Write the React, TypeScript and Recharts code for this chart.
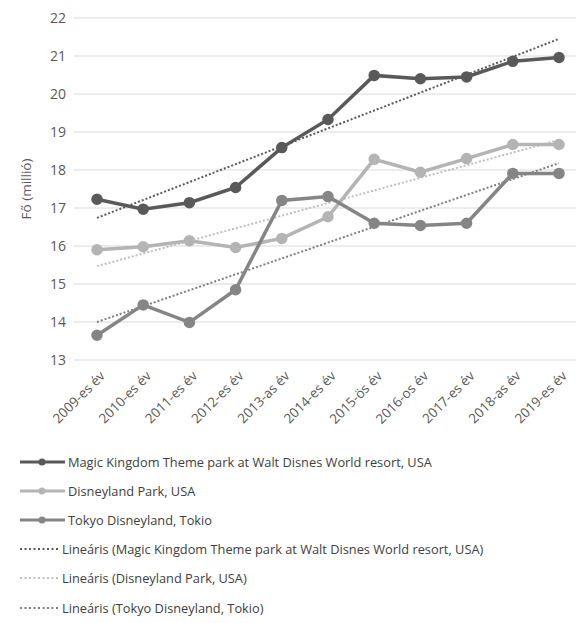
import React from 'react'
import { LineChart, Line, XAxis, YAxis, CartesianGrid } from 'recharts'

const years = [
    '2009-es év', '2010-es év', '2011-es év', '2012-es év', '2013-as év', '2014-es év',
    '2015-ös év', '2016-os év', '2017-es év', '2018-as év', '2019-es év'
]
const magicKingdom = [17.23, 16.97, 17.14, 17.54, 18.59, 19.33, 20.49, 20.40, 20.45, 20.86, 20.96]
const disneyland = [15.90, 15.98, 16.14, 15.96, 16.20, 16.77, 18.28, 17.94, 18.30, 18.67, 18.67]
const tokyo = [13.65, 14.45, 13.99, 14.85, 17.20, 17.30, 16.60, 16.54, 16.60, 17.91, 17.91]
// trend lines: only the two end values
const magicTrend = [16.74, null, null, null, null, null, null, null, null, null, 21.45]
const disneyTrend = [15.47, null, null, null, null, null, null, null, null, null, 18.79]
const tokyoTrend = [14.0, null, null, null, null, null, null, null, null, null, 18.18]
const yTicks = [13, 14, 15, 16, 17, 18, 19, 20, 21, 22]

const data = years.map((year, i) => ({
    year,
    mk: magicKingdom[i],
    dl: disneyland[i],
    tk: tokyo[i],
    mkT: magicTrend[i],
    dlT: disneyTrend[i],
    tkT: tokyoTrend[i]
}))

const FONT = '"Open Sans", sans-serif'
const TEXT = '#595959'

const legendItems = [
    { name: 'Magic Kingdom Theme park at Walt Disnes World resort, USA', color: '#595959', dotted: false },
    { name: 'Disneyland Park, USA', color: '#b4b4b4', dotted: false },
    { name: 'Tokyo Disneyland, Tokio', color: '#858585', dotted: false },
    { name: 'Lineáris (Magic Kingdom Theme park at Walt Disnes World resort, USA)', color: '#595959', dotted: true },
    { name: 'Lineáris (Disneyland Park, USA)', color: '#bfbfbf', dotted: true },
    { name: 'Lineáris (Tokyo Disneyland, Tokio)', color: '#7f7f7f', dotted: true }
]

const XTick = ({ x, y, payload }: any) => (
    <g transform={`translate(${x + 6},${y + 6})`}>
        <text x={0} y={0} dy={4} textAnchor="end" transform="rotate(-45)"
            fill={TEXT} fontSize={13.5} fontFamily={FONT}>
            {payload.value}
        </text>
    </g>
)

export default function App() {
    return (
        <div style={{ position: 'absolute', left: 0, top: 0, width: 576, height: 623, overflow: 'hidden', background: '#fff', fontFamily: FONT }}>
            <LineChart width={582} height={440} data={data} margin={{ top: 18, right: 0, bottom: 0, left: 0 }}>
                <CartesianGrid vertical={false} stroke="#d9d9d9" />
                <XAxis dataKey="year" interval={0} height={80} padding={{ left: 23, right: 23 }}
                    axisLine={false} tickLine={false} tick={<XTick />} />
                <YAxis domain={[13, 22]} ticks={yTicks} width={74} axisLine={false} tickLine={false}
                    tick={{ fill: TEXT, fontSize: 14, fontFamily: FONT }}
                    label={{ value: 'Fő (millió)', angle: -90, position: 'insideLeft', offset: 26, style: { textAnchor: 'middle', fill: TEXT, fontSize: 13.5, fontFamily: FONT } }} />
                <Line dataKey="mkT" stroke="#595959" strokeWidth={2} strokeDasharray="2 2" dot={false} connectNulls isAnimationActive={false} />
                <Line dataKey="dlT" stroke="#bfbfbf" strokeWidth={2} strokeDasharray="2 2" dot={false} connectNulls isAnimationActive={false} />
                <Line dataKey="tkT" stroke="#7f7f7f" strokeWidth={2} strokeDasharray="2 2" dot={false} connectNulls isAnimationActive={false} />
                <Line dataKey="dl" stroke="#b4b4b4" strokeWidth={3.5} dot={{ r: 4, fill: '#b4b4b4', stroke: '#b4b4b4' }} isAnimationActive={false} />
                <Line dataKey="tk" stroke="#858585" strokeWidth={3.5} dot={{ r: 4, fill: '#858585', stroke: '#858585' }} isAnimationActive={false} />
                <Line dataKey="mk" stroke="#595959" strokeWidth={3.5} dot={{ r: 4, fill: '#595959', stroke: '#595959' }} isAnimationActive={false} />
            </LineChart>
            <div style={{ position: 'absolute', left: 20, top: 447 }}>
                {legendItems.map((item) => (
                    <div key={item.name} style={{ display: 'flex', alignItems: 'center', height: 29.2 }}>
                        <svg width={item.dotted ? 42 : 48} height={12}>
                            {item.dotted ? (
                                <line x1={0} y1={6} x2={38} y2={6} stroke={item.color} strokeWidth={2} strokeDasharray="2 2.5" />
                            ) : (
                                <g>
                                    <line x1={0} y1={6} x2={45} y2={6} stroke={item.color} strokeWidth={3} />
                                    <circle cx={22} cy={6} r={3.5} fill={item.color} />
                                </g>
                            )}
                        </svg>
                        <span style={{ fontSize: 12.8, color: '#404040', whiteSpace: 'nowrap' }}>{item.name}</span>
                    </div>
                ))}
            </div>
        </div>
    )
}
